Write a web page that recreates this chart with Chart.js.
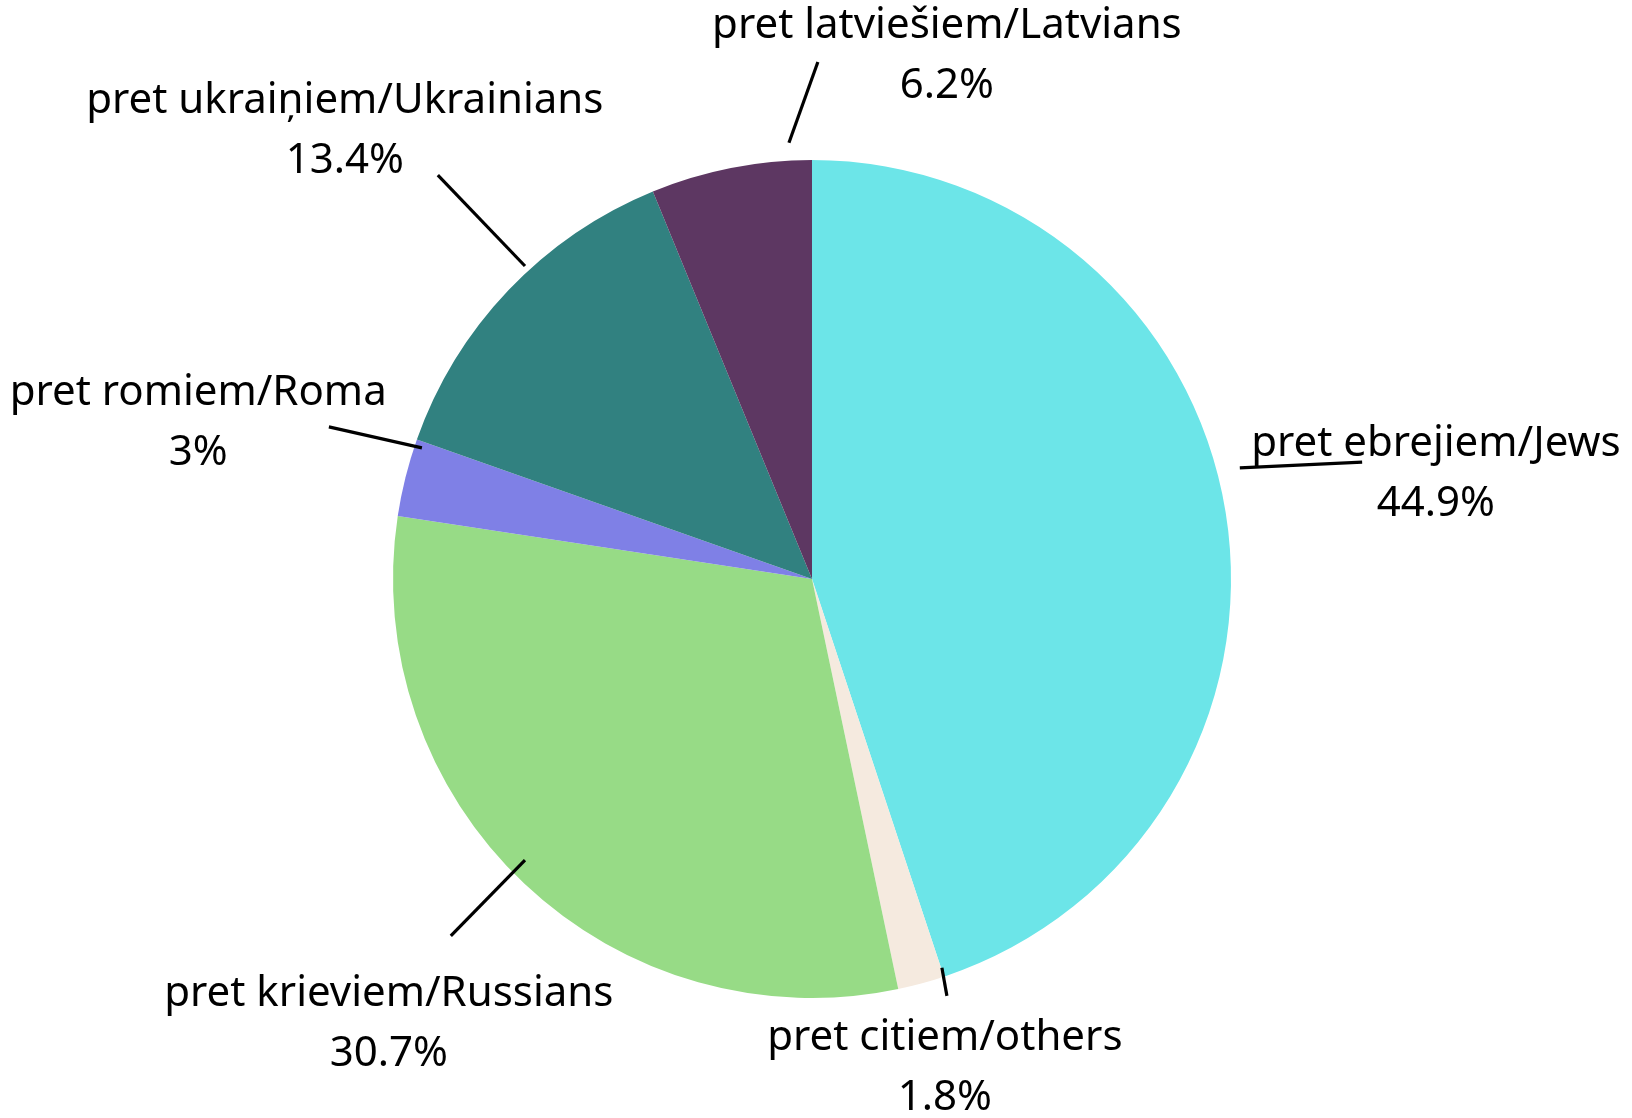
<!DOCTYPE html>
<html>
<head>
<meta charset="utf-8">
<script src="https://cdn.jsdelivr.net/npm/chart.js@4.4.1/dist/chart.umd.min.js"></script>
<style>
  html, body { margin: 0; padding: 0; background: #fff; }
  #wrap { width: 1632px; height: 1118px; }
</style>
</head>
<body>
<div id="wrap"><canvas id="pie-chart"></canvas></div>
<script>
const labels = [
    'pret ebrejiem/Jews',
    'pret citiem/others',
    'pret krieviem/Russians',
    'pret romiem/Roma',
    'pret ukraiņiem/Ukrainians',
    'pret latviešiem/Latvians'
];
const values = [44.9, 1.8, 30.7, 3, 13.4, 6.2];
const colors = ['#6ce5e8', '#f5eadf', '#97db86', '#7f80e6', '#318180', '#5d3762'];

// label layout, in units of the pie radius, relative to the pie center
// line: [x1, y1, x2, y2], text: [x, y] of the first line
const labelLayout = [
    {line: [1.021, -0.265, 1.313, -0.279], text: [1.489, -0.322]},
    {line: [0.310, 0.928, 0.322, 0.995], text: [0.317, 1.096]},
    {line: [-0.685, 0.671, -0.862, 0.852], text: [-1.010, 0.990]},
    {line: [-0.931, -0.313, -1.153, -0.363], text: [-1.465, -0.444]},
    {line: [-0.685, -0.747, -0.893, -0.964], text: [-1.115, -1.141]},
    {line: [-0.055, -1.041, 0.014, -1.234], text: [0.322, -1.320]}
];

const outsideLabels = {
    id: 'outsideLabels',
    afterDatasetsDraw(chart) {
        const ctx = chart.ctx;
        const arcs = chart.getDatasetMeta(0).data;
        ctx.save();
        arcs.forEach((arc, i) => {
            const r = arc.outerRadius;
            const cx = arc.x, cy = arc.y;
            const l = labelLayout[i];
            ctx.strokeStyle = '#000';
            ctx.lineWidth = 3.2;
            ctx.beginPath();
            ctx.moveTo(cx + l.line[0] * r, cy + l.line[1] * r);
            ctx.lineTo(cx + l.line[2] * r, cy + l.line[3] * r);
            ctx.stroke();

            ctx.fillStyle = '#000';
            ctx.font = '42px "Noto Sans"';
            ctx.textAlign = 'center';
            ctx.textBaseline = 'middle';
            const tx = cx + l.text[0] * r, ty = cy + l.text[1] * r;
            ctx.fillText(labels[i], tx, ty);
            ctx.fillText(values[i] + '%', tx, ty + 60);
        });
        ctx.restore();
    }
};

const pieChart = new Chart(document.getElementById('pie-chart'), {
        type: 'pie',
        data: {
            labels: labels,
            datasets: [{
                data: values,
                backgroundColor: colors,
                borderWidth: 0
            }]
        },
        options: {
            responsive: true,
            maintainAspectRatio: false,
            animation: false,
            layout: {
                padding: {top: 160, bottom: 120, left: 393, right: 401}
            },
            plugins: {
                legend: {display: false},
                tooltip: {enabled: false}
            }
        },
        plugins: [outsideLabels]
    }
);
</script>
</body>
</html>
